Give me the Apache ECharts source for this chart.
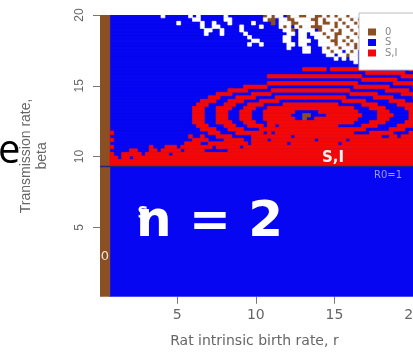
<!DOCTYPE html>
<html>
<head>
<meta charset="utf-8">
<script src="https://cdn.jsdelivr.net/npm/echarts@6/dist/echarts.min.js"></script>
<style>
  html, body { margin: 0; padding: 0; background: #fff; }
  #chart { width: 413px; height: 352px; }
</style>
</head>
<body>
<div id="chart"></div>
<script>
var categories = ['0', 'S', 'S,I'];
var xTicks = [5, 10, 15, 20];
var yTicks = [5, 10, 15, 20];
var rExtent = [0.1, 20.1];
var betaExtent = [0.1, 20];
var strip0 = 0.725;   // below this r everything dies out (state 0)
var r0Beta = 9.3;     // R0 = 1
var cellSize = 0.25;

// states above the R0=1 line, top row first, 0.25 x 0.25 cells starting at r = strip0
// B = S, R = S,I, O = 0, W = blank
var cellRows = [
  'BBBBBBBBBB BBBWBBBBBB WBWBBBBBBW BBBBBBBBBO WOWWBOWWOO WWOOWOWOWW OWWWWWWWWW WWWWWWWW',
  'BBBBBBBBBB BBBBBBBBBB BWWBBBBBBW WBBBBBBBBW OOBWWOOWWW WOOWOWWWOW WOWOWWWWWW WWWWWWWW',
  'BBBBBBBBBB BBBBBBBWBB BBBWBBWBBB WBBBBBWBBB BOBWWWOOWW WWOWOOWOWO WWOWOWWWWW WWWWWWWW',
  'BBBBBBBBBB BBBBBBBBBB BBBWBBWWBB BBBWBBBBWB BBBWOWBWOW WOOOWWWOWW OWWOWWWWWW WWWWWWWW',
  'BBBBBBBBBB BBBBBBBBBB BBBBWWBBWB BBBWBBBBBB BBBBWWOBWW WWBOWWOWOW WOWWOWWWWW WWWWWWWW',
  'BBBBBBBBBB BBBBBBBBBB BBBBWBBBWB BBBBWBBBBB BBBBBWWBWW BWWWOWWOOW WWOWWWWWWW WWWWWWWW',
  'BBBBBBBBBB BBBBBBBBBB BBBBBBBBBB BBBBBWBBBB BBBBWWBBWW BBWWWOWOWW OWWOWWWWWW WWWWWWWW',
  'BBBBBBBBBB BBBBBBBBBB BBBBBBBBBB BBBBBBWWBB BBBBWWBBWW WBBWWWOOWO WOWWWWWWWW WWWWWWWW',
  'BBBBBBBBBB BBBBBBBBBB BBBBBBBBBB BBBBBWBBWB BBBBBWWBWW BBBWWWWOWW OWOWWWWWWW WWWWWWWW',
  'BBBBBBBBBB BBBBBBBBBB BBBBBBBBBB BBBBBBBBBB BBBBBWBBBW WBBBWOWWOW WWOWWWWWWW WWWWWWWW',
  'BBBBBBBBBB BBBBBBBBBB BBBBBBBBBB BBBBBBBBBB BBBBBBBBBW WBBBWWOWWB WOWBWWWWWW WWWWWWWW',
  'BBBBBBBBBB BBBBBBBBBB BBBBBBBBBB BBBBBBBBBB BBBBBBBBBB BBBBBWWBWW OWWBWWWWWW WWWWWWWW',
  'BBBBBBBBBB BBBBBBBBBB BBBBBBBBBB BBBBBBBBBB BBBBBBBBBB BBBBBBBWBW BWWBWWWWWW WWWWWWWW',
  'BBBBBBBBBB BBBBBBBBBB BBBBBBBBBB BBBBBBBBBB BBBBBBBBBB BBBBBBBBBB BBWBWWWWWW WWWWWWWW',
  'BBBBBBBBBB BBBBBBBBBB BBBBBBBBBB BBBBBBBBBB BBBBBBBBBB BBBBBBBBBB BBBBBBRRRR RRRRRRRB',
  'BBBBBBBBBB BBBBBBBBBB BBBBBBBBBB BBBBBBBBBB BBBBBBBBBR RRRRRBRRRR RRRRRRBBBB BBBBBBRR',
  'BBBBBBBBBB BBBBBBBBBB BBBBBBBBBB BBBBBBBBBB BBBBBBBBBB BBBBBBBBBB BBBBBRRRRR RRRRRBBB',
  'BBBBBBBBBB BBBBBBBBBB BBBBBBBBBB BBBBBBBBBB RRRRRRRRRR RRRRRRRRRR RRRRBBBBBB BBBBRRRR',
  'BBBBBBBBBB BBBBBBBBBB BBBBBBBBBB BBBBBBBBBB BBBBBBBBBB BBBBBBBBBB BBBBRRRRRR RRRBBBBB',
  'BBBBBBBBBB BBBBBBBBBB BBBBBBBBBB BBBBBBBBBB RRRRRRRRRR RRRRRRRRRR RRRBBBBBBB BBRRRRRR',
  'BBBBBBBBBB BBBBBBBBBB BBBBBBBBBB BBBBRRRRRR BBBBBBBBBB BBBBBBBBBB BBRRRRRRRR RBBBBBBR',
  'BBBBBBBBBB BBBBBBBBBB BBBBBBBBBB RRRRRBBBBB BRRRRRRRRR RRRRRRRRRR RBBBBBBBBB RRRRRRBB',
  'BBBBBBBBBB BBBBBBBBBB BBBBBBBRRR RBBBBBRRRR RBBBBBBBBB BBBBBBBBBB BRRRRRRRBB BBBBRRRR',
  'BBBBBBBBBB BBBBBBBBBB BBBBBRRRBB BBRRRRRBBB BBRRRRRRRR RRRRRRRRRR BBBBBBBRRR RRBBBBBR',
  'BBBBBBBBBB BBBBBBBBBB BBBRRRRBBB RRRRBBBBRR RRRBBBBBBB BBBBBBBBBR RRRRRBBBBB BRRRRBBB',
  'BBBBBBBBBB BBBBBBBBBB BBRRRBBBBR RRBBBRRRRB BBBBRRRRRR RRRRRRRRBB BBBBRRRRBB BBBRRRRB',
  'BBBBBBBBBB BBBBBBBBBB BRRRBBBRRR RBBBRRRBBB RRRRRRRRRR RRRRRRRRRR RRBBBBRRRR BBBBBRRR',
  'BBBBBBBBBB BBBBBBBBBB BRRRBBBRRR BBBRRRBBBR RRRRRRRBBB BBBRRRRRRR RRRBBBBBRR RBBBBBRR',
  'BBBBBBBBBB BBBBBBBBBB BRRRBBBRRR BBBRRRBBBR RRRRRRBBBO OBBBBRRRRR RRRRBBBBRR RRBBBBRR',
  'BBBBBBBBBB BBBBBBBBBB BRRRBBBRRR BBBRRRBBBR RRRRRRRBBO BBRRRRRRRR RRRBBBBBRR RBBBBBRR',
  'BBBBBBBBBB BBBBBBBBBB BRRRBBBRRR RBBBRRRBBB RRRRRRRRRR RRRRRRRRRR RRBBBBRRRR BBBBBRRR',
  'BBBBBBBBBB BBBBBBBBBB BBRRRBBBBR RRBBBRRRRB RRBRRRRRRR RRRRRRRRBB BBBBRRRRBB BBBRRRRB',
  'BBBBBBBBBB BBBBBBBBBB BBBRRRRBBB RRRRBBBBRR RRRRRRRRRR RRRRRRRRRR RRRRRBBBBB BRRRRBBB',
  'RBBBBBBBBB BBBBBBBBBB BBBBBRRRBB BBRRRRRRRB RBRRRRRRRR RRRRRRRRRR RRBBBBRRRR RRBBBBRR',
  'BBBBBBBBBB BBBBBBBBBB RBBRBBBRRR RBBBBBRRRR RRRRRRBRRR RRRRRRRRRR RRRRRRRRRB BRRBRRRR',
  'RBBBBBBBBB BBBBBBBBBB BRRRRBBBBR RRRRBBRRRR BRRRRRRRRR RRBRRRRRRR BRRRRRRRRR RRRRRRRR',
  'BBBBBBBBBB BBBBBBBBBR RRRBBRRRRR RRRRRBRRRR RRRRRBRRRR RRRRRRRRBR RRRRRRRRRR RRRRRRRR',
  'RBBBBBBBBB RBBBRRRBRR RRRRRRBRRR RRRBRRRRRR RRRRRRRRRR RRRRRRRRRR RRRRRRRRRR RRRRRRRR',
  'BBBBBRRBBB RRBRRRRRBR RRRRBBBBBB RRRRRRRRRR RRRRRRRRRR RRRRRRRRRR RRRRRRRRRR RRRRRRRR',
  'RBBRRRRRBR RRRRRBRRRR RRRRRRRRRR RRRRRRRRRR RRRRRRRRRR RRRRRRRRRR RRRRRRRRRR RRRRRRRR',
  'RRBRRBRRRR RRRRRRRRRR RRRRRRRRRR RRRRRRRRRR RRRRRRRRRR RRRRRRRRRR RRRRRRRRRR RRRRRRRR',
  'RRRRRRRRRR RRRRRRRRRR RRRRRRRRRR RRRRRRRRRR RRRRRRRRRR RRRRRRRRRR RRRRRRRRRR RRRRRRRR',
  'RRRRRRRRRR RRRRRRRRRR RRRRRRRRRR RRRRRRRRRR RRRRRRRRRR RRRRRRRRRR RRRRRRRRRR RRRRRRRR'
];

var stateColors = { '0': '#8B4F24', 'S': '#0606F2', 'S,I': '#F20808', 'blank': '#FFFFFF' };

// merge equal neighbours of one row into [r0, beta0, r1, beta1] boxes
function runsOf(code) {
  var out = [];
  cellRows.forEach(function (row, i) {
    var cells = row.replace(/ /g, ''),
      b0 = r0Beta + cellSize * (cellRows.length - 1 - i),
      c = 0;
    while (c < cells.length) {
      var start = c;
      while (c < cells.length && cells[c] === cells[start]) c++;
      if (cells[start] === code) {
        out.push([strip0 + start * cellSize, b0, strip0 + c * cellSize, b0 + cellSize]);
      }
    }
  });
  return out;
}

function renderCell(params, api) {
  var p0 = api.coord([api.value(0), api.value(3)]),
    p1 = api.coord([api.value(2), api.value(1)]),
    color = api.visual('color');
  return {
    type: 'rect',
    shape: { x: p0[0], y: p0[1], width: p1[0] - p0[0], height: p1[1] - p0[1] },
    style: { fill: color, stroke: color, lineWidth: 0.7 }
  };
}

function cellSeries(name, data) {
  return {
    type: 'custom',
    name: name,
    renderItem: renderCell,
    clip: true,
    silent: true,
    encode: { x: [0, 2], y: [1, 3] },
    itemStyle: { color: stateColors[name] },
    data: data
  };
}

var chart = echarts.init(document.getElementById('chart'));
var axisText = '#666';
var option = {
  animation: false,
  grid: { left: 100, top: 15, width: 314.8, height: 281.8, outerBoundsMode: 'none' },
  legend: {
    data: categories,
    orient: 'vertical',
    left: 359,
    top: 13,
    padding: [14, 40, 12, 9],
    itemWidth: 8,
    itemHeight: 7,
    itemGap: 0.5,
    icon: 'rect',
    selectedMode: false,
    backgroundColor: '#fff',
    borderColor: '#bbb',
    borderWidth: 1,
    borderRadius: 0,
    textStyle: { fontFamily: 'DejaVu Sans', fontSize: 10, lineHeight: 10, color: '#888', padding: [0, 0, 0, 4] }
  },
  xAxis: {
    type: 'value',
    min: rExtent[0],
    max: rExtent[1],
    name: 'Rat intrinsic birth rate, r',
    nameLocation: 'middle',
    nameGap: 38,
    nameTextStyle: { fontFamily: 'DejaVu Sans', fontSize: 14, color: axisText, padding: [0, 6, 0, 0] },
    axisLine: { show: false },
    axisTick: { show: true, length: 7, customValues: xTicks, lineStyle: { color: '#777' } },
    axisLabel: { customValues: xTicks, margin: 12, fontFamily: 'DejaVu Sans', fontSize: 14, color: axisText },
    splitLine: { show: false }
  },
  yAxis: {
    type: 'value',
    min: betaExtent[0],
    max: betaExtent[1],
    name: 'Transmission rate,\nbeta',
    nameLocation: 'middle',
    nameRotate: 90,
    nameGap: 50,
    nameTextStyle: { fontFamily: 'Liberation Sans', fontSize: 14, lineHeight: 16, color: axisText },
    axisLine: { show: false },
    axisTick: { show: true, length: 7, customValues: yTicks, lineStyle: { color: '#777' } },
    axisLabel: { customValues: yTicks, rotate: 90, margin: 14, fontFamily: 'Liberation Sans', fontSize: 12, color: axisText },
    splitLine: { show: false }
  },
  graphic: [
    { type: 'text', z: 10, x: -2, y: 152, style: { text: 'e', font: '40px "Open Sans"', fill: '#000', verticalAlign: 'middle' } },
    { type: 'text', z: 10, x: 333, y: 158, style: { text: 'S,I', font: 'bold 15px "DejaVu Sans"', fill: '#fff2f2', align: 'center', verticalAlign: 'middle' } },
    { type: 'text', z: 10, x: 388, y: 175, style: { text: 'R0=1', font: '10px "DejaVu Sans"', fill: '#9a9aff', align: 'center', verticalAlign: 'middle' } },
    { type: 'text', z: 10, x: 143, y: 214, style: { text: 'S', font: 'bold 15px "DejaVu Sans"', fill: '#fff', align: 'center', verticalAlign: 'middle' } },
    { type: 'text', z: 10, x: 105, y: 257, style: { text: '0', font: '13px "DejaVu Sans"', fill: '#f4e6d8', align: 'center', verticalAlign: 'middle' } },
    { type: 'text', z: 11, x: 136, y: 223, style: { text: 'n = 2', font: 'bold 50px "DejaVu Sans"', fill: '#fff', verticalAlign: 'middle' } }
  ],
  series: [
    cellSeries('S', [[strip0, betaExtent[0], rExtent[1], betaExtent[1]]].concat(runsOf('B'))),
    cellSeries('0', [[rExtent[0], betaExtent[0], strip0, betaExtent[1]]].concat(runsOf('O'))),
    cellSeries('S,I', runsOf('R')),
    cellSeries('blank', runsOf('W')),
    {
      type: 'line',
      name: 'R0=1',
      silent: true,
      symbol: 'none',
      z: 5,
      lineStyle: { color: '#24247c', width: 1.5 },
      data: [[rExtent[0], r0Beta], [rExtent[1], r0Beta]]
    }
  ]
};
chart.setOption(option);
window.addEventListener('resize', function () {
  chart.resize();
});
</script>
</body>
</html>
